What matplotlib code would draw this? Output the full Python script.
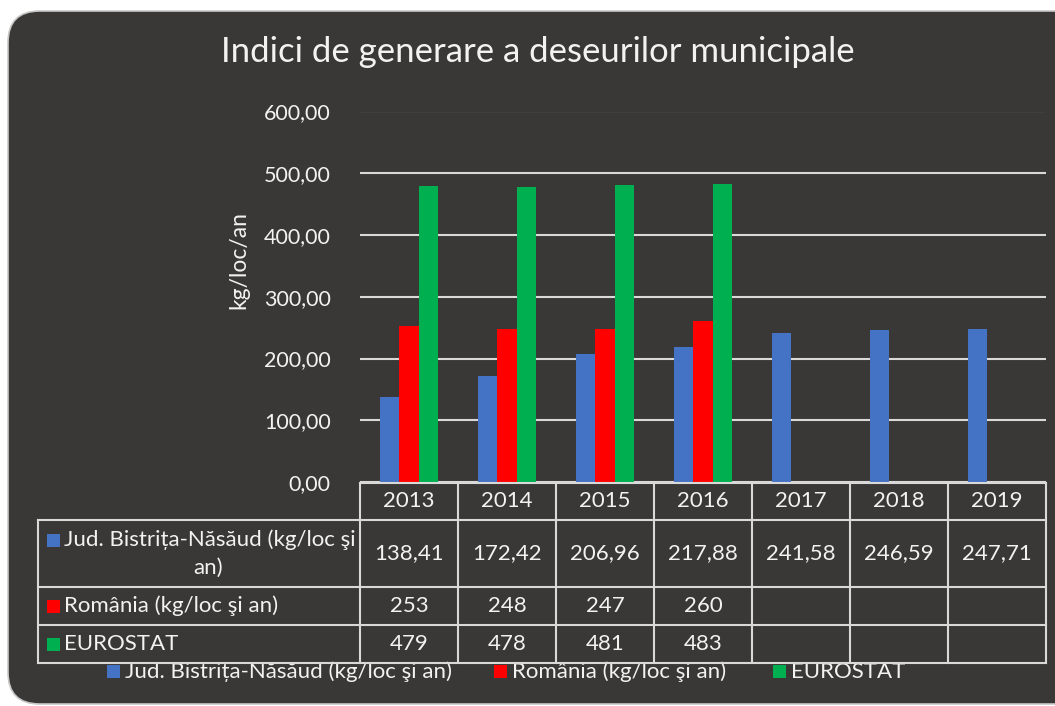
import matplotlib.pyplot as plt
from matplotlib.patches import FancyBboxPatch, Rectangle
from matplotlib.lines import Line2D
from matplotlib.transforms import blended_transform_factory

plt.rcParams['font.family'] = ['Lato', 'DejaVu Sans']

years = ['2013', '2014', '2015', '2016', '2017', '2018', '2019']
jud = [138.41, 172.42, 206.96, 217.88, 241.58, 246.59, 247.71]
romania = [253, 248, 247, 260]
eurostat = [479, 478, 481, 483]
series_names = ['Jud. Bistrița-Năsăud (kg/loc şi an)', 'România (kg/loc şi an)', 'EUROSTAT']
colors = ['#4472C4', '#FF0000', '#00B050']

BG = '#3A3836'
FG = '#F2F2F2'
GRID = '#D9D9D9'
W, H = 1055, 706


def fx(px):
    return px / W


def fy(py):
    return 1 - py / H


fig = plt.figure(figsize=(W / 100, H / 100), dpi=100)
fig.patch.set_facecolor('white')

# rounded dark panel
panel = FancyBboxPatch((fx(8), fy(704)), fx(1100) - fx(8), fy(11) - fy(704),
                       boxstyle="round,pad=0,rounding_size=0.03", transform=fig.transFigure,
                       fc=BG, ec='#C8C8C8', lw=1.2, mutation_aspect=W / H, zorder=0)
fig.add_artist(panel)

ax = fig.add_axes([fx(360), fy(482), fx(1046) - fx(360), fy(111.5) - fy(482)])
ax.set_facecolor('none')
for s in ax.spines.values():
    s.set_visible(False)

bw = 0.197
x = list(range(len(years)))
ax.bar([i - bw for i in x], jud, width=bw, color=colors[0], zorder=3)
ax.bar([i for i in range(len(romania))], romania, width=bw, color=colors[1], zorder=3)
ax.bar([i + bw for i in range(len(eurostat))], eurostat, width=bw, color=colors[2], zorder=3)

ax.set_xlim(-0.5, len(years) - 0.5)
ax.set_ylim(0, 600)
yt = [0, 100, 200, 300, 400, 500, 600]
ax.set_yticks(yt)
ax.set_yticklabels([f"{v:.2f}".replace('.', ',') for v in yt], color=FG, fontsize=15.5)
ax.tick_params(axis='y', length=0, pad=21)
ax.set_xticks([])
ax.grid(axis='y', color=GRID, lw=1.5, zorder=1)
ax.set_axisbelow(True)

fig.text(fx(239), fy(260), 'kg/loc/an', color=FG, fontsize=16.5, rotation=90,
         ha='center', va='center')
fig.text(fx(538), fy(52), 'Indici de generare a deseurilor municipale', color=FG,
         fontsize=25, ha='center', va='center')

# data table below the axis
bt = blended_transform_factory(ax.transData, fig.transFigure)
rows_y = [483, 520, 587, 625, 663]
label_left = -0.5 - (360 - 38) / 98.0
lw = 1.5
for yy in rows_y:
    x0 = -0.5 if yy == rows_y[0] else label_left
    fig.add_artist(Line2D([x0, len(years) - 0.5], [fy(yy), fy(yy)], transform=bt,
                          color=GRID, lw=lw, zorder=5))
for i in range(len(years) + 1):
    fig.add_artist(Line2D([i - 0.5, i - 0.5], [fy(rows_y[0]), fy(rows_y[-1])], transform=bt,
                          color=GRID, lw=lw, zorder=5))
fig.add_artist(Line2D([label_left, label_left], [fy(rows_y[1]), fy(rows_y[-1])], transform=bt,
                      color=GRID, lw=lw, zorder=5))

fs = 16
for i, yr in enumerate(years):
    fig.text(i, fy(501), yr, transform=bt, color=FG, fontsize=fs, ha='center', va='center', zorder=6)
    fig.text(i, fy(553), f"{jud[i]:.2f}".replace('.', ','), transform=bt, color=FG,
             fontsize=fs, ha='center', va='center', zorder=6)
for i, v in enumerate(romania):
    fig.text(i, fy(606), str(v), transform=bt, color=FG, fontsize=fs, ha='center', va='center', zorder=6)
for i, v in enumerate(eurostat):
    fig.text(i, fy(644), str(v), transform=bt, color=FG, fontsize=fs, ha='center', va='center', zorder=6)

# row labels with colour keys
row_lbl_y = [540, 606, 644]
row_lbl = ['Jud. Bistrița-Năsăud (kg/loc şi', series_names[1], series_names[2]]
for c, yy, t in zip(colors, row_lbl_y, row_lbl):
    fig.add_artist(Rectangle((fx(47), fy(yy + 6.5)), fx(13), fy(0) - fy(13), transform=fig.transFigure,
                             fc=c, ec='none', zorder=6))
    fig.text(fx(64), fy(yy), t, color=FG, fontsize=fs, ha='left', va='center', zorder=6)
fig.text(fx(208), fy(568), 'an)', color=FG, fontsize=fs, ha='center', va='center', zorder=6)

# legend at the bottom
leg_x = [107, 494, 773]
for c, lx, t in zip(colors, leg_x, series_names):
    fig.add_artist(Rectangle((fx(lx), fy(678)), fx(13), fy(0) - fy(13), transform=fig.transFigure,
                             fc=c, ec='none', zorder=4))
    fig.text(fx(lx + 18), fy(672), t, color=FG, fontsize=fs, ha='left', va='center', zorder=4)

fig.savefig('out.png', dpi=100, facecolor=fig.get_facecolor())
